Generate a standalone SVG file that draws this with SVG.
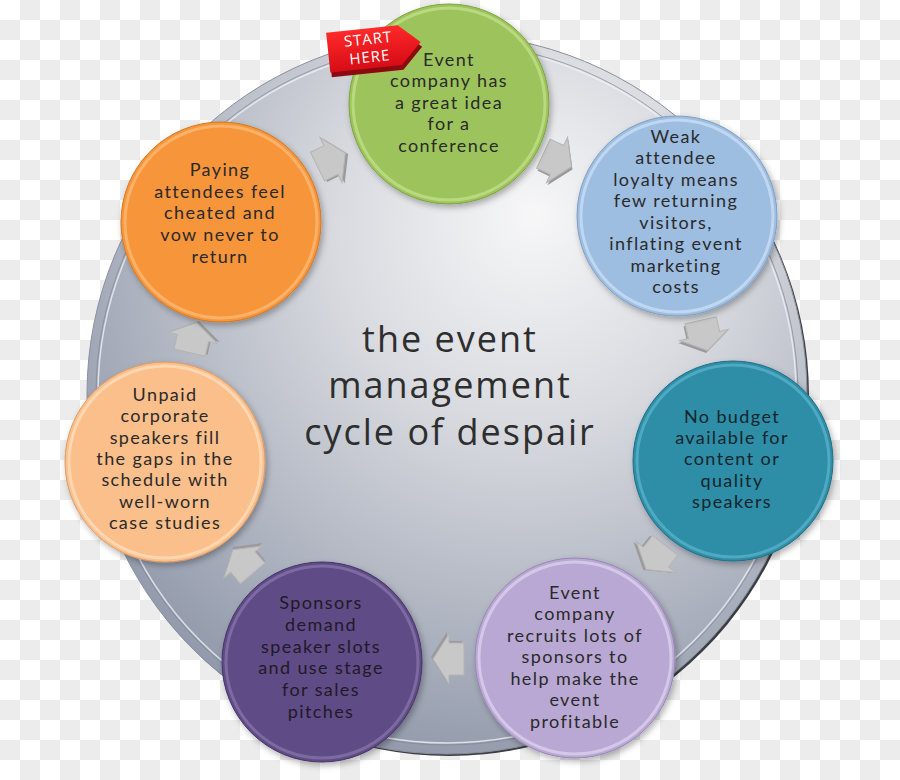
<svg xmlns="http://www.w3.org/2000/svg" width="900" height="780" viewBox="0 0 900 780">
<defs>
  <pattern id="checker" width="40" height="40" patternUnits="userSpaceOnUse">
    <rect width="40" height="40" fill="#ffffff"/>
    <rect x="20" y="0" width="20" height="20" fill="#ececec"/>
    <rect x="0" y="20" width="20" height="20" fill="#ececec"/>
  </pattern>
  <radialGradient id="discGrad" cx="0.6" cy="0.32" r="0.75" fx="0.62" fy="0.25">
    <stop offset="0" stop-color="#f7f7f8"/>
    <stop offset="0.35" stop-color="#d9dbe0"/>
    <stop offset="0.75" stop-color="#a9afbc"/>
    <stop offset="1" stop-color="#8b93a6"/>
  </radialGradient>
  <linearGradient id="badgeGrad" x1="0" y1="0" x2="0" y2="1">
    <stop offset="0" stop-color="#ff2a2a"/>
    <stop offset="1" stop-color="#d60c16"/>
  </linearGradient>
  <filter id="shadow" x="-20%" y="-20%" width="140%" height="140%">
    <feDropShadow dx="2" dy="3" stdDeviation="3" flood-color="#000" flood-opacity="0.3"/>
  </filter>
  <polygon id="arrowShape" points="-15,-16 0,-16 0,-25 16,0 0,25 0,16 -15,16"/>
</defs>
<style>
  .node-text { font-family: Lato, "Open Sans", "Liberation Sans", sans-serif; font-size: 18px; letter-spacing: 1.4px; text-anchor: middle; fill: #2a2a2a; }
  .title { font-family: "Open Sans", "Liberation Sans", sans-serif; font-size: 36px; letter-spacing: 2px; text-anchor: middle; fill: #2e2e2e; }
  .badge-text { font-family: "Open Sans", "Liberation Sans", sans-serif; font-size: 15px; letter-spacing: 1px; text-anchor: middle; fill: #ffffff; }
  .rim { fill: none; stroke-width: 3; opacity: 0.85; }
  .arrow-face { fill: #c8c8c8; stroke: #b4b4b4; stroke-width: 1; }
  .arrow-side { fill: #9a9a9a; }
</style>

<rect width="900" height="780" fill="url(#checker)"/>

<g id="disc">
  <circle cx="449" cy="396" r="360" fill="#3b3d42"/>
  <circle cx="447" cy="394" r="360" fill="url(#discGrad)" stroke="#8a909c" stroke-width="1"/>
  <circle cx="447" cy="394" r="351" fill="none" stroke="#7f8696" stroke-width="1" opacity="0.7"/>
  <circle cx="447" cy="394" r="349" fill="none" stroke="#eef0f4" stroke-width="1.5" opacity="0.8"/>
</g>

<g id="title">
  <text class="title" x="450" y="352">the event</text>
  <text class="title" x="450" y="398">management</text>
  <text class="title" x="450" y="445">cycle of despair</text>
</g>

<g id="connectors">
  <g transform="translate(331,160) rotate(-26)"><use href="#arrowShape" class="arrow-side" transform="translate(2,2)"/><use href="#arrowShape" class="arrow-face"/></g>
  <g transform="translate(557,160) rotate(25)"><use href="#arrowShape" class="arrow-side" transform="translate(2,2)"/><use href="#arrowShape" class="arrow-face"/></g>
  <g transform="translate(704,335) rotate(77)"><use href="#arrowShape" class="arrow-side" transform="translate(2,2)"/><use href="#arrowShape" class="arrow-face"/></g>
  <g transform="translate(656,557) rotate(128)"><use href="#arrowShape" class="arrow-side" transform="translate(2,2)"/><use href="#arrowShape" class="arrow-face"/></g>
  <g transform="translate(449,659) rotate(180)"><use href="#arrowShape" class="arrow-side" transform="translate(2,2)"/><use href="#arrowShape" class="arrow-face"/></g>
  <g transform="translate(243,562) rotate(230)"><use href="#arrowShape" class="arrow-side" transform="translate(2,2)"/><use href="#arrowShape" class="arrow-face"/></g>
  <g transform="translate(193,338) rotate(-77)"><use href="#arrowShape" class="arrow-side" transform="translate(2,2)"/><use href="#arrowShape" class="arrow-face"/></g>
</g>

<g id="node-idea">
  <circle cx="449" cy="104" r="100" fill="#9dc45b" stroke="#7fa243" stroke-width="1" filter="url(#shadow)"/>
  <circle cx="449" cy="104" r="96" class="rim" stroke="#bedd86"/>
  <text class="node-text"><tspan x="449" y="66">Event</tspan><tspan x="449" y="87">company has</tspan><tspan x="449" y="109">a great idea</tspan><tspan x="449" y="130">for a</tspan><tspan x="449" y="152">conference</tspan></text>
</g>

<g id="node-loyalty">
  <circle cx="677" cy="216" r="100" fill="#9dbde1" stroke="#7f9fc4" stroke-width="1" filter="url(#shadow)"/>
  <circle cx="677" cy="216" r="96" class="rim" stroke="#c6dcf3"/>
  <text class="node-text"><tspan x="676" y="143">Weak</tspan><tspan x="676" y="164">attendee</tspan><tspan x="676" y="186">loyalty means</tspan><tspan x="676" y="207">few returning</tspan><tspan x="676" y="229">visitors,</tspan><tspan x="676" y="250">inflating event</tspan><tspan x="676" y="272">marketing</tspan><tspan x="676" y="293">costs</tspan></text>
</g>

<g id="node-budget">
  <circle cx="733" cy="461" r="100" fill="#2f8da7" stroke="#1f6f86" stroke-width="1" filter="url(#shadow)"/>
  <circle cx="733" cy="461" r="96" class="rim" stroke="#55aec6"/>
  <text class="node-text" style="fill:#14262c"><tspan x="732" y="423">No budget</tspan><tspan x="732" y="444">available for</tspan><tspan x="732" y="465">content or</tspan><tspan x="732" y="487">quality</tspan><tspan x="732" y="508">speakers</tspan></text>
</g>

<g id="node-sponsors">
  <circle cx="575" cy="658" r="100" fill="#b9a8d4" stroke="#9886b6" stroke-width="1" filter="url(#shadow)"/>
  <circle cx="575" cy="658" r="96" class="rim" stroke="#d8cdea"/>
  <text class="node-text"><tspan x="575" y="599">Event</tspan><tspan x="575" y="620">company</tspan><tspan x="575" y="642">recruits lots of</tspan><tspan x="575" y="663">sponsors to</tspan><tspan x="575" y="685">help make the</tspan><tspan x="575" y="706">event</tspan><tspan x="575" y="728">profitable</tspan></text>
</g>

<g id="node-slots">
  <circle cx="322" cy="662" r="100" fill="#5f4b85" stroke="#45336a" stroke-width="1" filter="url(#shadow)"/>
  <circle cx="322" cy="662" r="96" class="rim" stroke="#8170a6"/>
  <text class="node-text" style="fill:#1f1a28"><tspan x="321" y="609">Sponsors</tspan><tspan x="321" y="631">demand</tspan><tspan x="321" y="653">speaker slots</tspan><tspan x="321" y="674">and use stage</tspan><tspan x="321" y="696">for sales</tspan><tspan x="321" y="718">pitches</tspan></text>
</g>

<g id="node-unpaid">
  <circle cx="165" cy="462" r="100" fill="#fbbf8b" stroke="#dc9c66" stroke-width="1" filter="url(#shadow)"/>
  <circle cx="165" cy="462" r="96" class="rim" stroke="#fedbb6"/>
  <text class="node-text"><tspan x="165" y="401">Unpaid</tspan><tspan x="165" y="422">corporate</tspan><tspan x="165" y="444">speakers fill</tspan><tspan x="165" y="465">the gaps in the</tspan><tspan x="165" y="486">schedule with</tspan><tspan x="165" y="508">well-worn</tspan><tspan x="165" y="529">case studies</tspan></text>
</g>

<g id="node-cheated">
  <circle cx="221" cy="222" r="100" fill="#f7953b" stroke="#d47822" stroke-width="1" filter="url(#shadow)"/>
  <circle cx="221" cy="222" r="96" class="rim" stroke="#fbb670"/>
  <text class="node-text"><tspan x="220" y="176">Paying</tspan><tspan x="220" y="198">attendees feel</tspan><tspan x="220" y="219">cheated and</tspan><tspan x="220" y="241">vow never to</tspan><tspan x="220" y="263">return</tspan></text>
</g>

<g id="start-badge" transform="rotate(-6 372 48)">
  <polygon points="328,30 400,30 421,49 400,70 328,70" fill="#8a0a10" transform="translate(1,3)"/>
  <polygon points="328,28 400,28 421,47 400,68 328,68" fill="url(#badgeGrad)"/>
  <text class="badge-text"><tspan x="369" y="44">START</tspan><tspan x="369" y="62">HERE</tspan></text>
</g>
</svg>
